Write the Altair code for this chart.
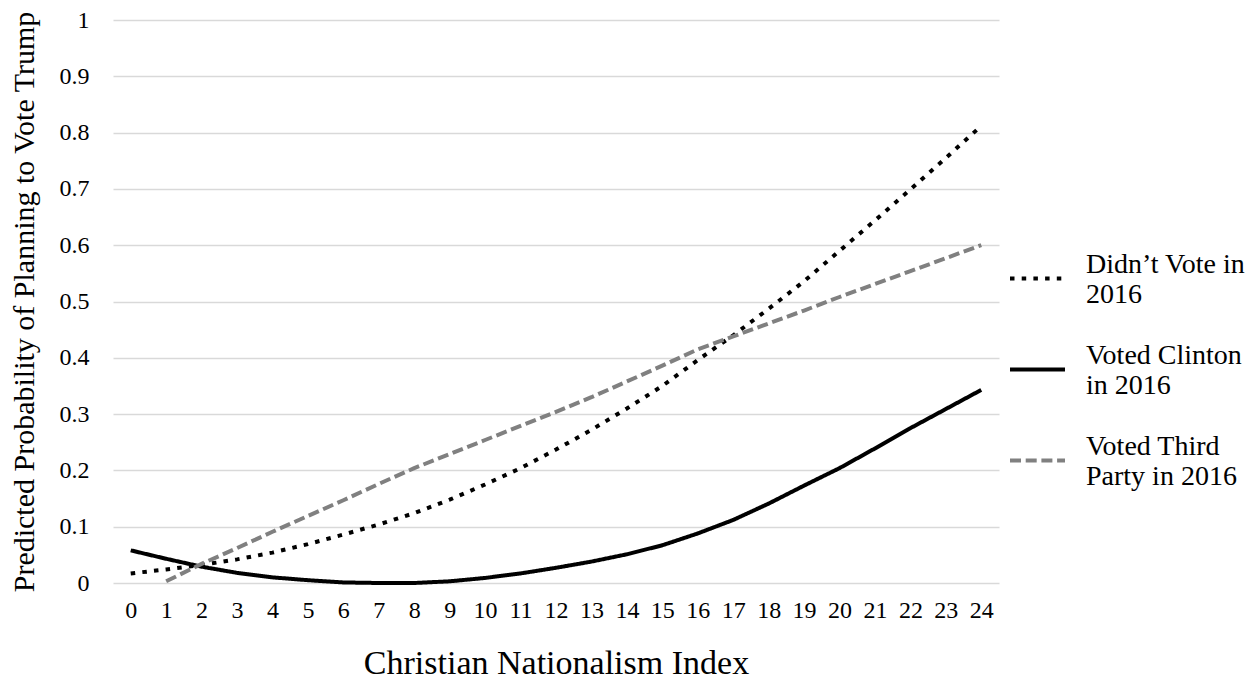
import altair as alt
import pandas as pd

# ---- data ----
x_index = list(range(25))
didnt_vote = [0.017, 0.024, 0.032, 0.042, 0.054, 0.069, 0.086, 0.104, 0.124, 0.148,
              0.175, 0.204, 0.237, 0.272, 0.310, 0.350, 0.396, 0.440, 0.487, 0.536,
              0.590, 0.644, 0.699, 0.755, 0.812]
voted_clinton = [0.058, 0.043, 0.029, 0.018, 0.010, 0.005, 0.001, 0.0, 0.0, 0.003,
                 0.009, 0.017, 0.027, 0.038, 0.051, 0.067, 0.088, 0.112, 0.141, 0.173,
                 0.204, 0.239, 0.275, 0.309, 0.343]
voted_third = [None, 0.003, 0.034, 0.062, 0.091, 0.119, 0.147, 0.176, 0.204, 0.229,
               0.254, 0.279, 0.304, 0.330, 0.358, 0.386, 0.415, 0.438, 0.461, 0.484,
               0.508, 0.531, 0.554, 0.577, 0.600]

series_names = ["Didn\u2019t Vote in|2016", "Voted Clinton|in 2016", "Voted Third|Party in 2016"]
series_values = [didnt_vote, voted_clinton, voted_third]
series_colors = ["#000000", "#000000", "#808080"]
series_dashes = [[4.5, 7.2], [1, 0], [11, 4.7]]
y_ticks = [0, 0.1, 0.2, 0.3, 0.4, 0.5, 0.6, 0.7, 0.8, 0.9, 1.0]

rows = []
for name, vals in zip(series_names, series_values):
    for xi, v in zip(x_index, vals):
        if v is not None:
            rows.append({"index": xi, "prob": v, "series": name})
df = pd.DataFrame(rows)

legend_cfg = dict(
    title=None,
    orient="none",
    legendX=895,
    legendY=229,
    symbolType="stroke",
    symbolSize=3025,
    symbolStrokeWidth=4,
    labelFontSize=28,
    labelOffset=19,
    labelLimit=400,
    labelBaseline="bottom",
    rowPadding=31,
    padding=0,
    labelColor="#000000",
    labelExpr="split(datum.label, '|')",
)

chart = alt.Chart(df).mark_line(strokeWidth=4).encode(
    x=alt.X(
        "index:O",
        scale=alt.Scale(padding=0.5),
        axis=alt.Axis(
            title="Christian Nationalism Index",
            labelAngle=0,
            grid=False,
            ticks=False,
            domain=False,
            labelFontSize=24,
            labelPadding=15,
            titleFontSize=34,
            titlePadding=24,
            labelColor="#000000",
            titleColor="#000000",
            titleFontWeight="normal",
        ),
    ),
    y=alt.Y(
        "prob:Q",
        scale=alt.Scale(domain=[0, 1], nice=False),
        axis=alt.Axis(
            title="Predicted Probability of Planning to Vote Trump",
            values=y_ticks,
            format=".1~f",
            grid=True,
            gridColor="#d9d9d9",
            gridWidth=1.5,
            ticks=False,
            domain=False,
            labelFontSize=24,
            labelPadding=24,
            titleFontSize=30,
            titlePadding=20,
            labelColor="#000000",
            titleColor="#000000",
            titleFontWeight="normal",
        ),
    ),
    color=alt.Color("series:N", scale=alt.Scale(domain=series_names, range=series_colors),
                    legend=alt.Legend(**legend_cfg)),
    strokeDash=alt.StrokeDash("series:N", scale=alt.Scale(domain=series_names, range=series_dashes),
                              legend=alt.Legend(**legend_cfg)),
).properties(
    width=886,
    height=563,
    padding={"top": 0, "left": 0, "right": 0, "bottom": 0},
).configure(
    font="Liberation Serif",
).configure_view(
    strokeWidth=0,
)

chart.save("out.html", embed_options={"renderer": "svg", "actions": False})
